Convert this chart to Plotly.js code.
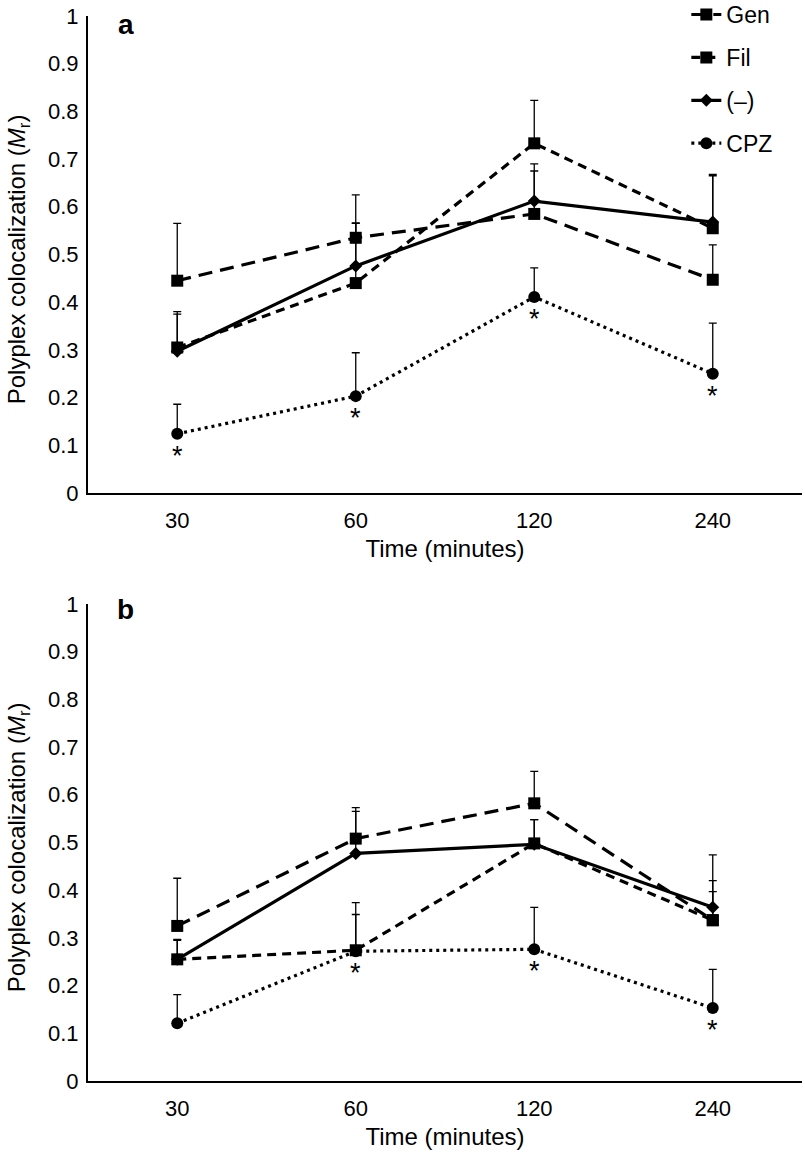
<!DOCTYPE html>
<html>
<head>
<meta charset="utf-8">
<script src="https://cdn.plot.ly/plotly-3.0.1.min.js"></script>
<style>
  html, body { margin: 0; padding: 0; background: #fff; }
  #chart { width: 805px; height: 1158px; }
</style>
</head>
<body>
<div id="chart"></div>
<script>
// time points (minutes)
const times = ['30', '60', '120', '240'];
const seriesNames = ['Gen', 'Fil', '(\u2013)', 'CPZ'];

// panel a: mean values and upper error
const aGen = [0.445, 0.535, 0.585, 0.447];
const aGenErr = [0.12, 0.09, 0.09, 0.073];
const aFil = [0.305, 0.44, 0.733, 0.555];
const aFilErr = [0.075, 0.125, 0.09, 0.11];
const aNeg = [0.297, 0.476, 0.612, 0.568];
const aNegErr = [0.078, 0.09, 0.078, 0.10];
const aCpz = [0.124, 0.203, 0.411, 0.25];
const aCpzErr = [0.062, 0.091, 0.061, 0.106];
const aStars = [true, true, true, true];

// panel b
const bGen = [0.325, 0.508, 0.582, 0.337];
const bGenErr = [0.10, 0.065, 0.067, 0.083];
const bFil = [0.255, 0.274, 0.498, 0.337];
const bFilErr = [0.042, 0.10, 0.05, 0.06];
const bNeg = [0.255, 0.477, 0.496, 0.364];
const bNegErr = [0.04, 0.088, 0.052, 0.11];
const bCpz = [0.121, 0.272, 0.276, 0.153];
const bCpzErr = [0.06, 0.077, 0.088, 0.081];
const bStars = [false, true, true, true];

const styles = [
  { dash: '14px,8px', symbol: 'square', size: 12 },
  { dash: '9px,6px', symbol: 'square', size: 12 },
  { dash: 'solid', symbol: 'diamond', size: 10 },
  { dash: '3px,4px', symbol: 'circle', size: 12 }
];

const font = 'Liberation Sans, Arial, Helvetica, sans-serif';

function makeTrace(i, y, err, xa, ya, legend) {
  const s = styles[i];
  return {
    x: times, y: y, xaxis: xa, yaxis: ya,
    type: 'scatter', mode: 'lines+markers',
    name: seriesNames[i],
    legendgroup: 'g' + i,
    showlegend: legend,
    line: { color: '#000', width: 3.2, dash: s.dash },
    marker: { color: '#000', symbol: s.symbol, size: s.size },
    error_y: {
      type: 'data', symmetric: false, array: err,
      arrayminus: err.map(() => 0),
      color: '#000', thickness: 1.3, width: 4
    }
  };
}

// asterisks below the CPZ points (x given as category index)
function starNotes(y, stars, xa, ya) {
  const out = [];
  times.forEach((t, i) => {
    if (!stars[i]) return;
    out.push({
      x: i, y: y[i], xref: xa, yref: ya, text: '*', showarrow: false,
      yshift: -22, font: { size: 27, family: font, color: '#000' }
    });
  });
  return out;
}

const data = [
  makeTrace(0, aGen, aGenErr, 'x', 'y', true),
  makeTrace(1, aFil, aFilErr, 'x', 'y', true),
  makeTrace(2, aNeg, aNegErr, 'x', 'y', true),
  makeTrace(3, aCpz, aCpzErr, 'x', 'y', true),
  makeTrace(0, bGen, bGenErr, 'x2', 'y2', false),
  makeTrace(1, bFil, bFilErr, 'x2', 'y2', false),
  makeTrace(2, bNeg, bNegErr, 'x2', 'y2', false),
  makeTrace(3, bCpz, bCpzErr, 'x2', 'y2', false)
];

function xAxis(anchor) {
  return {
    anchor: anchor, type: 'category', categoryorder: 'array', categoryarray: times,
    range: [-0.5, 3.5], showline: true, linecolor: '#000', linewidth: 2,
    showgrid: false, zeroline: false, ticks: '', ticklabelstandoff: 7,
    tickfont: { size: 22, family: font, color: '#000' },
    title: { text: 'Time (minutes)', font: { size: 24, family: font, color: '#000' }, standoff: 8 }
  };
}
function yAxis(anchor, domain) {
  return {
    anchor: anchor, domain: domain, range: [0, 1], dtick: 0.1, tick0: 0,
    showline: true, linecolor: '#000', linewidth: 2, showgrid: false, zeroline: false,
    ticks: '', ticklabelstandoff: 3,
    tickfont: { size: 22, family: font, color: '#000' }
  };
}

const yTitle = 'Polyplex colocalization (<i>M</i><sub>r</sub>)';

const layout = {
  width: 805, height: 1158,
  margin: { l: 88, r: 3, t: 0, b: 0, autoexpand: false },
  paper_bgcolor: '#fff', plot_bgcolor: '#fff',
  font: { family: font, color: '#000' },
  xaxis: xAxis('y'),
  yaxis: yAxis('x', [0.5743, 0.9862]),
  xaxis2: xAxis('y2'),
  yaxis2: yAxis('x2', [0.0665, 0.4785]),
  showlegend: true,
  legend: {
    x: 0.838, y: 1.006, xanchor: 'left', yanchor: 'top',
    font: { size: 23, family: font, color: '#000' },
    tracegroupgap: 10, bgcolor: 'rgba(0,0,0,0)'
  },
  annotations: [
    { text: '<b>a</b>', xref: 'paper', yref: 'paper', x: 0.053, y: 0.979, xanchor: 'center', yanchor: 'middle', showarrow: false, font: { size: 28, family: font, color: '#000' } },
    { text: '<b>b</b>', xref: 'paper', yref: 'paper', x: 0.053, y: 0.474, xanchor: 'center', yanchor: 'middle', showarrow: false, font: { size: 28, family: font, color: '#000' } },
    { text: yTitle, textangle: -90, xref: 'paper', yref: 'y domain', x: -0.098, y: 0.49, xanchor: 'center', yanchor: 'middle', showarrow: false, font: { size: 24, family: font, color: '#000' } },
    { text: yTitle, textangle: -90, xref: 'paper', yref: 'y2 domain', x: -0.098, y: 0.49, xanchor: 'center', yanchor: 'middle', showarrow: false, font: { size: 24, family: font, color: '#000' } }
  ].concat(starNotes(aCpz, aStars, 'x', 'y'), starNotes(bCpz, bStars, 'x2', 'y2'))
};

Plotly.newPlot('chart', data, layout, { staticPlot: true });
</script>
</body>
</html>
